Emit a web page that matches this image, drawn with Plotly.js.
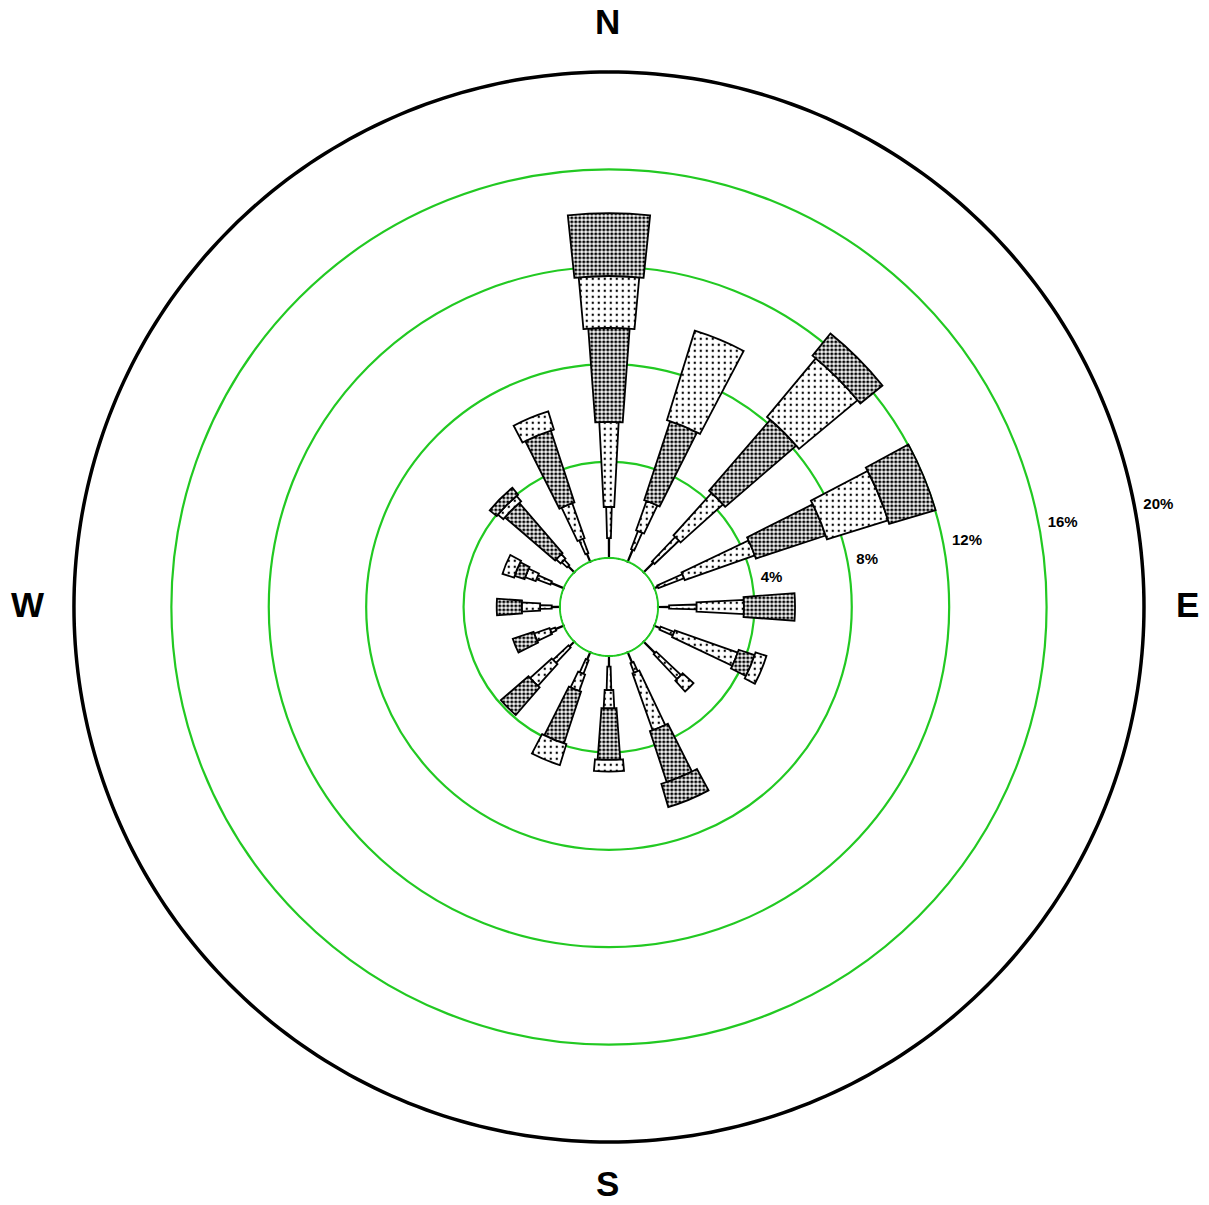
<!DOCTYPE html>
<html>
<head>
<meta charset="utf-8">
<script src="https://cdn.plot.ly/plotly-3.0.1.min.js"></script>
<style>html,body{margin:0;padding:0;background:#fff;}#chart{width:1209px;height:1205px;}</style>
</head>
<body>
<div id="chart"></div>
<script>
// Wind directions (compass degrees, clockwise from north)
const directions = ['N','NNE','NE','ENE','E','ESE','SE','SSE','S','SSW','SW','WSW','W','WNW','NW','NNW'];
const thetaDeg = [0,22.5,45,67.5,90,112.5,135,157.5,180,202.5,225,247.5,270,292.5,315,337.5];

// Frequency (%) per speed class, innermost class first
const class1 = [0.86,0.57,0.60,0.20,0.50,0.30,0.70,0.50,0.48,0.37,0.32,0.40,0.38,0.60,0.40,0.40];
const class2 = [1.28,0.80,1.39,1.13,1.13,0.60,1.40,0.42,0.96,0.60,0.87,0.22,0.48,0.62,0.30,0.63];
const class3 = [3.49,1.28,2.34,3.05,1.94,2.74,0.60,2.48,0.75,0.72,1.20,0.67,0.75,0.46,0.25,1.52];
const class4 = [3.86,3.41,3.85,3.02,2.10,0.69,0,2.20,2.12,2.24,1.50,0.90,1.03,0.43,2.72,3.11];
const class5 = [2.13,3.85,3.13,2.63,0,0.47,0,0,0.48,0.90,0,0,0,0.50,0.29,0.78];
const class6 = [2.58,0,1.17,1.99,0,0,0,1.00,0,0,0,0,0,0,0.37,0];

// Radial rings and their labels
const ringValues = [4,8,12,16,20];
const ringLabels = ['4%','8%','12%','16%','20%'];
const compassLabels = ['N','E','S','W'];
const compassAngles = [0,90,180,270];

const radialMax = 20.5;       // axis extends a little past the 20% frame ring
const frameValue = ringValues[ringValues.length - 1];

const classes = [class1,class2,class3,class4,class5,class6];
const widths = [0.5,3.2,6,8.5,10.5,12];
const darkPat = {shape:'.', bgcolor:'#ffffff', fgcolor:'#000000', size:4, solidity:0.5};
const lightPat = {shape:'.', bgcolor:'#ffffff', fgcolor:'#000000', size:6, solidity:0.12};
const styles = [
  {color:'#000000', pattern:null},
  {color:'#e6e6e6', pattern:lightPat},
  {color:'#e6e6e6', pattern:lightPat},
  {color:'#8c8c8c', pattern:darkPat},
  {color:'#e6e6e6', pattern:lightPat},
  {color:'#8c8c8c', pattern:darkPat}
];

const traces = [];
const circTheta = [];
for (let a = 0; a <= 360; a += 1) circTheta.push(a);

// green ring around the calm hole
traces.push({
  type:'scatterpolar', mode:'lines',
  r: circTheta.map(() => 0.04),
  theta: circTheta,
  line:{color:'#22c922', width:2.2},
  hoverinfo:'skip', showlegend:false
});

classes.forEach((vals, i) => {
  const m = {color: styles[i].color, line:{color:'#000000', width:1.8}};
  if (styles[i].pattern) m.pattern = styles[i].pattern;
  traces.push({
    type:'barpolar',
    r: vals.map(v => v > 0 ? v : null),
    theta: thetaDeg,
    width: widths[i],
    marker: m,
    hoverinfo:'skip',
    showlegend:false
  });
});

// Outer black frame at the 20% ring
traces.push({
  type:'scatterpolar', mode:'lines',
  r: circTheta.map(() => frameValue),
  theta: circTheta,
  line:{color:'#000000', width:3.5},
  hoverinfo:'skip', showlegend:false
});

// Ring labels just outside each ring
traces.push({
  type:'scatterpolar',
  mode:'text',
  r: ringValues.map(v => v + 0.37),
  theta: ringValues.map(() => 79.2),
  text: ringLabels,
  textposition:'middle right',
  textfont:{family:'Liberation Sans, Arial, sans-serif', size:15, color:'#000', weight:'bold'},
  cliponaxis:false,
  hoverinfo:'skip',
  showlegend:false
});

// Compass letters placed around the frame (paper coordinates)
const W = 1209, H = 1205;
const cx = 607.5, cy = 604.5, rx = 580, ry = 583;
const annotations = compassLabels.map((t, i) => {
  const a = compassAngles[i] * Math.PI / 180;
  const px = cx + rx * Math.sin(a);
  const py = cy - ry * Math.cos(a);
  const ann = {
    text: t, xref:'paper', yref:'paper',
    x: px / W, y: 1 - py / H,
    xanchor:'center', yanchor:'middle', showarrow:false,
    font:{family:'Liberation Sans, Arial, sans-serif', size:35, color:'#000', weight:'bold'}
  };
  if (t === 'S') { ann.y = 0; ann.yanchor = 'bottom'; }
  return ann;
});

const layout = {
  width:W, height:H,
  margin:{l:0,r:0,t:0,b:0},
  paper_bgcolor:'#ffffff',
  showlegend:false,
  annotations: annotations,
  polar:{
    domain:{x:[0.0511,0.9563], y:[0.04216,0.9504]},
    bgcolor:'#ffffff',
    hole:0.0877,
    barmode:'stack',
    radialaxis:{
      range:[0,radialMax],
      tickmode:'array',
      tickvals:ringValues.slice(0,4),
      showticklabels:false,
      ticks:'',
      showline:false,
      showgrid:true,
      gridcolor:'#22c922',
      gridwidth:2.2
    },
    angularaxis:{
      rotation:90,
      direction:'clockwise',
      showticklabels:false,
      ticks:'',
      showgrid:false,
      showline:false
    }
  }
};

Plotly.newPlot('chart', traces, layout, {displayModeBar:false, staticPlot:true});
</script>
</body>
</html>
